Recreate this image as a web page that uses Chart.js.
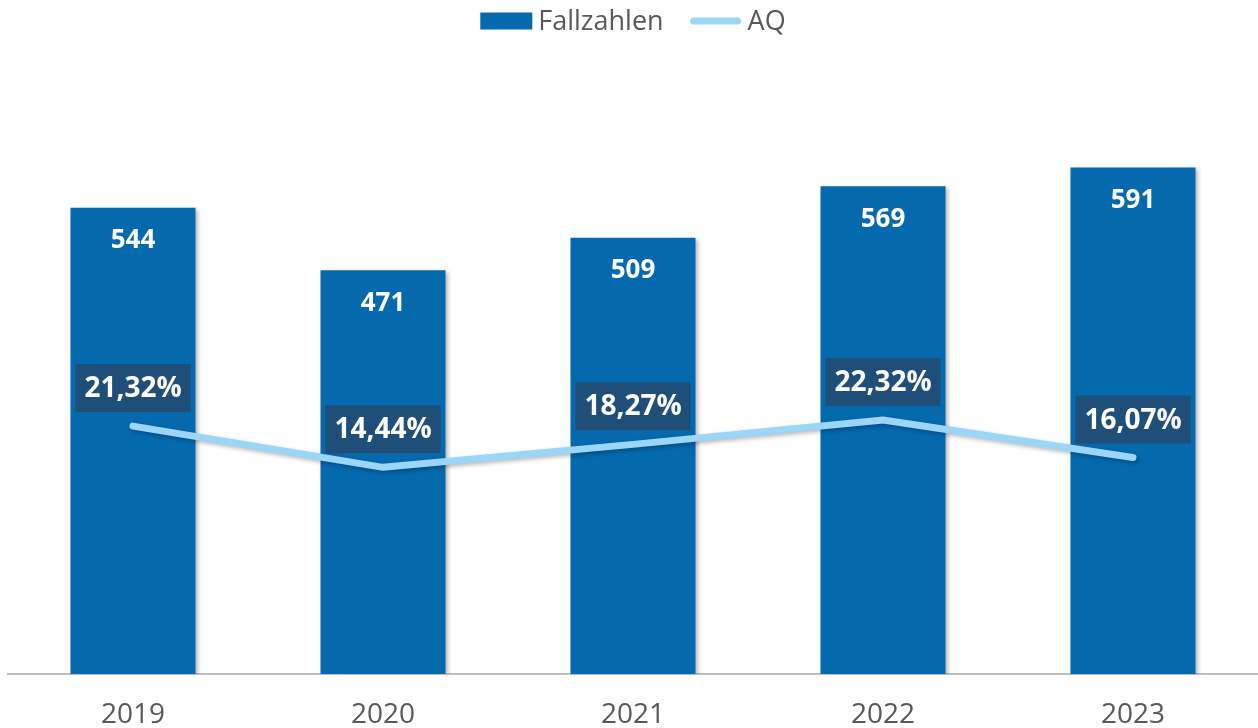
<!DOCTYPE html>
<html>
<head>
<meta charset="utf-8">
<script src="https://cdn.jsdelivr.net/npm/chart.js@4/dist/chart.umd.min.js"></script>
<style>
  html, body { margin: 0; padding: 0; background: #fff; }
  #wrap { width: 1258px; height: 728px; }
</style>
</head>
<body>
<div id="wrap"><canvas id="chart"></canvas></div>
<script>
// data
const years = ['2019', '2020', '2021', '2022', '2023'];
const fallzahlen = [544, 471, 509, 569, 591];
const aq = [21.32, 14.44, 18.27, 22.32, 16.07];

const BAR_BLUE = '#0569ae';
const LINE_BLUE = '#9bd5f8';
const BOX_BLUE = '#1f4e79';
const GREY = '#595959';
const FONT = "'Open Sans', sans-serif";

const fmtPct = v => v.toFixed(2).replace('.', ',') + '%';

// soft shadow under bars and line
const shadowPlugin = {
  id: 'shadow',
  beforeDatasetDraw(chart) {
    const ctx = chart.ctx;
    ctx.save();
    ctx.shadowColor = 'rgba(0,0,0,0.28)';
    ctx.shadowBlur = 4;
    ctx.shadowOffsetX = 2;
    ctx.shadowOffsetY = 2;
  },
  afterDatasetDraw(chart) { chart.ctx.restore(); }
};

// legend drawn by hand so it sits tight at the top like the original
const topLegend = {
  id: 'topLegend',
  afterDraw(chart) {
    const ctx = chart.ctx;
    const sw = 52, gapTxt = 6, gapItem = 26, cy = 21;
    ctx.save();
    ctx.font = `27px ${FONT}`;
    ctx.textBaseline = 'middle';
    const items = chart.data.datasets.map(ds => ({ ds, w: sw + gapTxt + ctx.measureText(ds.label).width }));
    const total = items.reduce((s, it) => s + it.w, 0) + gapItem * (items.length - 1);
    let x = (chart.chartArea.left + chart.chartArea.right) / 2 - total / 2;
    items.forEach(({ ds, w }) => {
      if (ds.type === 'bar') {
        ctx.fillStyle = ds.backgroundColor;
        ctx.fillRect(x, cy - 8.5, sw, 17);
      } else {
        ctx.strokeStyle = ds.borderColor;
        ctx.lineWidth = 7;
        ctx.lineCap = 'round';
        ctx.beginPath();
        ctx.moveTo(x + 4, cy);
        ctx.lineTo(x + sw - 4, cy);
        ctx.stroke();
      }
      ctx.fillStyle = GREY;
      ctx.fillText(ds.label, x + sw + gapTxt, cy + 1);
      x += w + gapItem;
    });
    ctx.restore();
  }
};

// value labels (bars: inside top, line: dark box above point)
const labelPlugin = {
  id: 'valueLabels',
  afterDatasetsDraw(chart) {
    const ctx = chart.ctx;
    ctx.save();
    ctx.textAlign = 'center';
    ctx.textBaseline = 'middle';

    const bars = chart.getDatasetMeta(0).data;
    ctx.font = `bold 26px ${FONT}`;
    ctx.fillStyle = '#fff';
    bars.forEach((bar, i) => {
      ctx.fillText(String(fallzahlen[i]), bar.x, bar.y + 33);
    });

    const pts = chart.getDatasetMeta(1).data;
    ctx.font = `bold 28px ${FONT}`;
    pts.forEach((p, i) => {
      const txt = fmtPct(aq[i]);
      const w = ctx.measureText(txt).width + 18;
      const h = 48;
      const cy = p.y - 38;
      ctx.fillStyle = BOX_BLUE;
      ctx.fillRect(p.x - w / 2, cy - h / 2, w, h);
      ctx.fillStyle = '#fff';
      ctx.fillText(txt, p.x, cy + 1);
    });
    ctx.restore();
  }
};

new Chart(document.getElementById('chart'), {
  data: {
    labels: years,
    datasets: [
      {
        type: 'bar',
        label: 'Fallzahlen',
        data: fallzahlen,
        backgroundColor: BAR_BLUE,
        borderWidth: 0,
        barPercentage: 0.5,
        categoryPercentage: 1,
        yAxisID: 'y',
        order: 2
      },
      {
        type: 'line',
        label: 'AQ',
        data: aq,
        borderColor: LINE_BLUE,
        backgroundColor: LINE_BLUE,
        borderWidth: 7,
        borderCapStyle: 'round',
        borderJoinStyle: 'round',
        pointRadius: 0,
        tension: 0,
        yAxisID: 'y1',
        order: 1
      }
    ]
  },
  options: {
    responsive: true,
    maintainAspectRatio: false,
    animation: false,
    layout: { padding: { left: 8, right: 0, top: 74, bottom: 0 } },
    plugins: {
      tooltip: { enabled: false },
      legend: { display: false }
    },
    scales: {
      x: {
        grid: { display: false, drawTicks: false },
        border: { display: true, color: '#bfbfbf', width: 2 },
        ticks: {
          color: GREY,
          padding: 27,
          font: { family: FONT, size: 28, lineHeight: 1 }
        },
        afterFit(scale) { scale.height = 54; }
      },
      y: {
        display: false,
        min: 0,
        max: 700
      },
      y1: {
        display: false,
        position: 'right',
        min: -20,
        max: 80
      }
    }
  },
  plugins: [shadowPlugin, labelPlugin, topLegend]
});
</script>
</body>
</html>
